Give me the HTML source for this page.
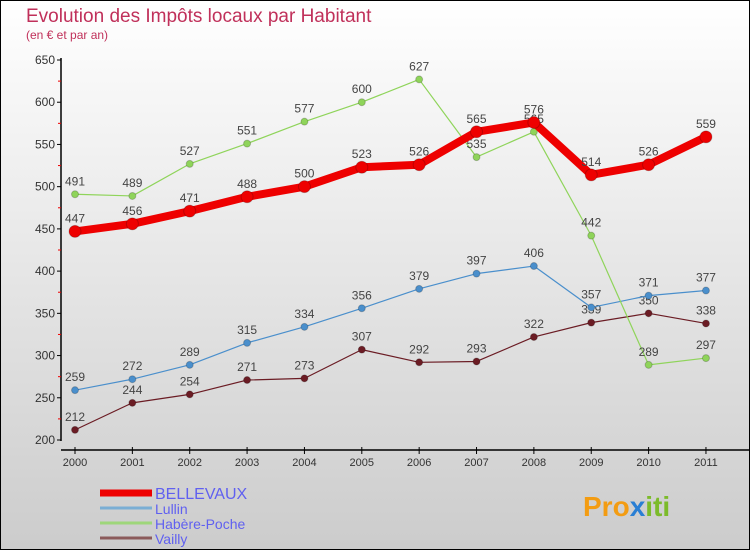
<!DOCTYPE html>
<html><head><meta charset="utf-8"><style>
body{margin:0;width:750px;height:550px;overflow:hidden;font-family:"Liberation Sans",sans-serif}
#wrap{position:absolute;left:0;top:0;width:748px;height:548px;border:1px solid #000;background:linear-gradient(#fff,#ccc)}
</style></head><body>
<div id="wrap">
<svg id="svg" width="750" height="550" style="position:absolute;left:-1px;top:-1px">
<text x="26" y="22" font-size="19" fill="#c0305a">Evolution des Impôts locaux par Habitant</text>
<text x="26" y="39" font-size="12" fill="#c0305a">(en € et par an)</text>
<g id="axes"></g><g id="series"></g><g id="legend"></g>
<text x="583" y="516" font-size="28" font-weight="bold" fill="#f39c12">Pro<tspan fill="#2a7fd4">x</tspan><tspan fill="#7cbb2a">iti</tspan></text>
</svg></div>
<script>
const years=[2000,2001,2002,2003,2004,2005,2006,2007,2008,2009,2010,2011];
const yTicks=[200,250,300,350,400,450,500,550,600,650];
const bellevaux=[447,456,471,488,500,523,526,565,576,514,526,559];
const lullin=[259,272,289,315,334,356,379,397,406,357,371,377];
const habere=[491,489,527,551,577,600,627,535,565,442,289,297];
const vailly=[212,244,254,271,273,307,292,293,322,339,350,338];
const NS="http://www.w3.org/2000/svg";
const X=i=>75+i*57.36, Y=v=>440-(v-200)*380/450;
function mk(t,a,p){const e=document.createElementNS(NS,t);for(const k in a)e.setAttribute(k,a[k]);p.appendChild(e);return e;}
const ax=document.getElementById('axes');
const yl=mk('line',{x1:61,y1:58,x2:61,y2:441,stroke:'#000','stroke-width':1.5},ax);


const xl=mk('line',{x1:61,y1:450,x2:750,y2:450,stroke:'#000','stroke-width':1.5},ax);


yTicks.forEach(v=>{
 mk('line',{x1:57,x2:61,y1:Y(v),y2:Y(v),stroke:'#000'},ax);
 if(v<650)mk('line',{x1:58,x2:61,y1:Y(v+25),y2:Y(v+25),stroke:'#e00'},ax);
 const t=mk('text',{x:55,y:Y(v)+4,'text-anchor':'end','font-size':12,fill:'#333'},ax);t.textContent=v;
 
 
});
years.forEach((y,i)=>{
 mk('line',{x1:X(i),x2:X(i),y1:447,y2:454,stroke:'#000'},ax);
 const t=mk('text',{x:X(i),y:466,'text-anchor':'middle','font-size':11,fill:'#333'},ax);t.textContent=y;
 
 
});
const sg=document.getElementById('series');
function series(vals,color,w,r,name){
 const g=mk('g',{},sg);
 
 
 mk('polyline',{points:vals.map((v,i)=>X(i)+','+Y(v)).join(' '),fill:'none',stroke:color,'stroke-width':w,'stroke-linejoin':'round'},g);
 vals.forEach((v,i)=>{
  const c=mk('circle',{cx:X(i),cy:Y(v),r:r,fill:color,stroke:'#0003'},g);
  
  
  const t=mk('text',{x:X(i),y:Y(v)-9,'text-anchor':'middle','font-size':12,fill:'#444'},g);t.textContent=v;
 });
}
series(vailly,'#6b1c24',1.2,3.5,'series-vailly');
series(lullin,'#4a8fcc',1.2,3.5,'series-lullin');
series(habere,'#8fd45a',1.2,3.5,'series-habere-poche');
series(bellevaux,'#ee0000',8,6,'series-bellevaux');
const lg=document.getElementById('legend');
[['BELLEVAUX','#ee0000',7,16],['Lullin','#7aaed4',3,14],['Habère-Poche','#9ed67a',3,14],['Vailly','#8b5a5a',3,14]].forEach((e,i)=>{
 const y=493+i*15;
 const g=mk('g',{},lg);
 
 
 mk('line',{x1:100,x2:152,y1:y,y2:y,stroke:e[1],'stroke-width':e[2]},g);
 const t=mk('text',{x:155,y:y+6,'font-size':e[3],fill:'#6060f0'},g);t.textContent=e[0];
});
</script></body></html>
